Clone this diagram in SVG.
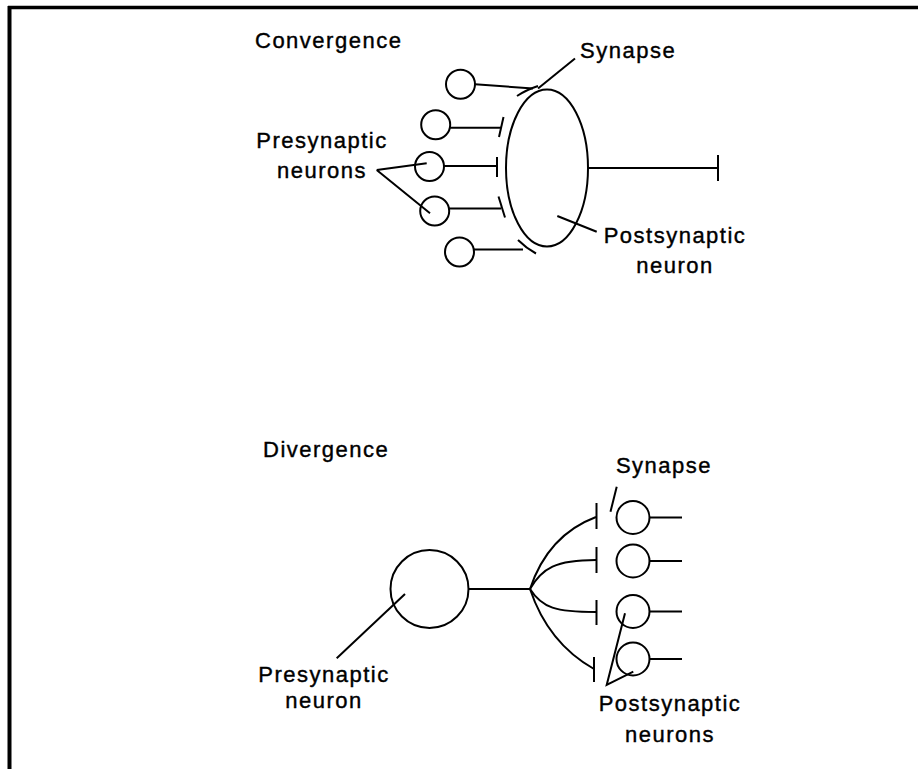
<svg xmlns="http://www.w3.org/2000/svg" width="918" height="769" viewBox="0 0 918 769">
<style>
.s{fill:none;stroke:#000;stroke-width:2;stroke-linecap:butt}
.t{font-family:"Liberation Sans",Arial,sans-serif;font-size:22px;letter-spacing:1.5px;fill:#000;stroke:#000;stroke-width:0.4}
.m{text-anchor:middle}
</style>
<rect width="918" height="769" fill="#fff"/>
<g id="frame">
<line x1="8" y1="7.5" x2="918" y2="7.5" stroke="#000" stroke-width="3.5"/>
<line x1="9.5" y1="6" x2="9.5" y2="769" stroke="#000" stroke-width="4"/>
</g>
<text class="t" x="255" y="48">Convergence</text>
<text class="t" x="263" y="457">Divergence</text>
<g id="conv-pre1"><circle class="s" cx="460.5" cy="84.3" r="14.5"/></g>
<g id="conv-pre2"><circle class="s" cx="435.7" cy="124.7" r="14.5"/></g>
<g id="conv-pre3"><circle class="s" cx="429.5" cy="166.5" r="14.5"/></g>
<g id="conv-pre4"><circle class="s" cx="434.7" cy="211" r="14.5"/></g>
<g id="conv-pre5"><circle class="s" cx="459.5" cy="252" r="14.5"/></g>
<g id="conv-post"><ellipse class="s" cx="547" cy="168" rx="41" ry="78.5"/></g>
<g id="div-pre"><circle class="s" cx="429.5" cy="589" r="39"/></g>
<g id="div-post1"><circle class="s" cx="633" cy="517.5" r="16.5"/></g>
<g id="div-post2"><circle class="s" cx="633" cy="561" r="16.5"/></g>
<g id="div-post3"><circle class="s" cx="633" cy="611.5" r="16.5"/></g>
<g id="div-post4"><circle class="s" cx="633" cy="659" r="16.5"/></g>
<g id="connectors">
<!-- convergence -->
<path class="s" d="M475,84.3 L533,88.5"/>
<path class="s" d="M517,96 Q526,90 538,86"/>
<path class="s" d="M450.2,127.7 L501,127.7"/>
<path class="s" d="M503.5,117 L499,137"/>
<path class="s" d="M444,166 L497,166"/>
<path class="s" d="M497,157 L497,177"/>
<path class="s" d="M449.2,208.5 L501,208.5"/>
<path class="s" d="M498.5,196.5 L505,217.5"/>
<path class="s" d="M474,249.5 L523,249.5"/>
<path class="s" d="M518,240 Q526,248 536,253.5"/>
<path class="s" d="M588,168 L718,168"/>
<path class="s" d="M718,155 L718,181"/>
<path class="s" d="M538,88.5 L575,58.5"/>
<path class="s" d="M376.7,170 L426.7,163.3 M376.7,170 L430,213.3"/>
<path class="s" d="M557.3,216 L596.7,231.7"/>
<!-- divergence -->
<path class="s" d="M468.5,589 L530,589"/>
<path class="s" d="M530,589 Q548,535 596,517"/>
<path class="s" d="M530,589 C542,568 556,560 596,560"/>
<path class="s" d="M530,589 C542,608 556,612 596,612"/>
<path class="s" d="M530,589 Q548,643 594,669"/>
<path class="s" d="M596.5,503 L596.5,529"/>
<path class="s" d="M596.5,547 L596.5,573"/>
<path class="s" d="M596.5,600 L596.5,625"/>
<path class="s" d="M594,657 L594,682"/>
<path class="s" d="M649.5,517.5 L682,517.5 M649.5,561 L682,561 M649.5,611.5 L682,611.5 M649.5,659 L682,659"/>
<path class="s" d="M616.7,486.7 L610.5,511.7"/>
<path class="s" d="M625,613.3 L606.7,685 L633.3,671.7"/>
<path class="s" d="M336.7,658.3 L405,594"/>
</g>
<g id="labels">
<text class="t m" x="322" y="148">Presynaptic</text>
<text class="t m" x="322" y="178">neurons</text>
<text class="t" x="580" y="58">Synapse</text>
<text class="t m" x="675" y="243">Postsynaptic</text>
<text class="t m" x="675" y="273">neuron</text>
<text class="t m" x="664" y="473">Synapse</text>
<text class="t m" x="670" y="711">Postsynaptic</text>
<text class="t m" x="670" y="742">neurons</text>
<text class="t m" x="324" y="682">Presynaptic</text>
<text class="t m" x="324" y="708">neuron</text>
</g>
</svg>
